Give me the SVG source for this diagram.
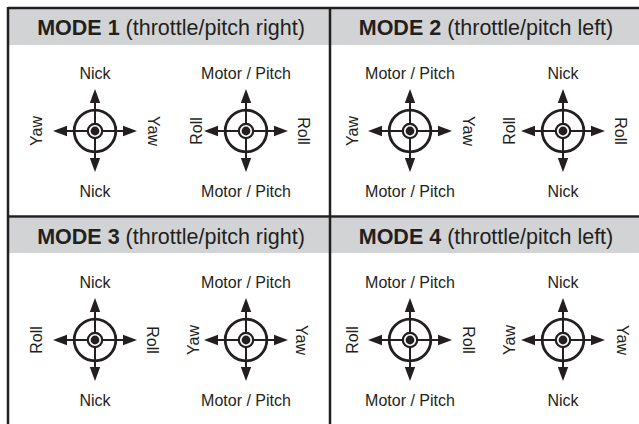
<svg xmlns="http://www.w3.org/2000/svg" xmlns:xlink="http://www.w3.org/1999/xlink" width="639" height="424" viewBox="0 0 639 424">
<style>
.hdr{fill:#d1d3d4}
.frame{stroke:#231f20;stroke-width:2.5;fill:none}
.ht{font-family:"Liberation Sans",Arial,sans-serif;font-size:21.5px;fill:#231f20;text-anchor:middle}
.lb{font-family:"Liberation Sans",Arial,sans-serif;font-size:16px;fill:#231f20;text-anchor:middle}
.ring{fill:none;stroke:#231f20;stroke-width:2.8}
.ax{stroke:#231f20;stroke-width:2}
.ah{fill:#231f20}
</style>
<defs>
<g id="stick">
<circle class="ring" r="20.8"/>
<line class="ax" x1="0" y1="-30" x2="0" y2="30"/>
<line class="ax" x1="-30" y1="0" x2="30" y2="0"/>
<circle r="7.2" fill="#fff" stroke="#231f20" stroke-width="2.2"/>
<circle class="ah" r="4.4"/>
<polygon class="ah" points="0,-42 -5.2,-28 5.2,-28"/>
<polygon class="ah" points="0,41 -5.2,27 5.2,27"/>
<polygon class="ah" points="-42,0 -28,-5.2 -28,5.2"/>
<polygon class="ah" points="42,0 28,-5.2 28,5.2"/>
</g>
</defs>
<rect width="639" height="424" fill="#fff"/>
<g id="frame">
<rect class="hdr" x="9" y="9" width="630" height="36"/>
<rect class="hdr" x="9" y="218" width="630" height="35"/>
<line class="frame" x1="8" y1="8" x2="639" y2="8"/>
<line class="frame" x1="8" y1="7" x2="8" y2="424"/>
<line class="frame" x1="330" y1="8" x2="330" y2="424"/>
<line class="frame" x1="8" y1="216.5" x2="639" y2="216.5"/>
</g>
<g id="mode1">
<text class="ht" x="171" y="35"><tspan font-weight="bold">MODE 1</tspan> (throttle/pitch right)</text>
<g id="m1-left">
<use xlink:href="#stick" x="95" y="131"/>
<text class="lb" x="95" y="79">Nick</text>
<text class="lb" x="95" y="197">Nick</text>
<text class="lb" transform="translate(42,131) rotate(-90)">Yaw</text>
<text class="lb" transform="translate(148,131) rotate(90)">Yaw</text>
</g>
<g id="m1-right">
<use xlink:href="#stick" x="246" y="131"/>
<text class="lb" x="246" y="79">Motor / Pitch</text>
<text class="lb" x="246" y="197">Motor / Pitch</text>
<text class="lb" transform="translate(202,131) rotate(-90)">Roll</text>
<text class="lb" transform="translate(298,131) rotate(90)">Roll</text>
</g>
</g>
<g id="mode2">
<text class="ht" x="486" y="35"><tspan font-weight="bold">MODE 2</tspan> (throttle/pitch left)</text>
<g id="m2-left">
<use xlink:href="#stick" x="410" y="131"/>
<text class="lb" x="410" y="79">Motor / Pitch</text>
<text class="lb" x="410" y="197">Motor / Pitch</text>
<text class="lb" transform="translate(358,131) rotate(-90)">Yaw</text>
<text class="lb" transform="translate(463,131) rotate(90)">Yaw</text>
</g>
<g id="m2-right">
<use xlink:href="#stick" x="563" y="131"/>
<text class="lb" x="563" y="79">Nick</text>
<text class="lb" x="563" y="197">Nick</text>
<text class="lb" transform="translate(515,131) rotate(-90)">Roll</text>
<text class="lb" transform="translate(615,131) rotate(90)">Roll</text>
</g>
</g>
<g id="mode3">
<text class="ht" x="171" y="243.5"><tspan font-weight="bold">MODE 3</tspan> (throttle/pitch right)</text>
<g id="m3-left">
<use xlink:href="#stick" x="95" y="340"/>
<text class="lb" x="95" y="288">Nick</text>
<text class="lb" x="95" y="406">Nick</text>
<text class="lb" transform="translate(42,340) rotate(-90)">Roll</text>
<text class="lb" transform="translate(147,340) rotate(90)">Roll</text>
</g>
<g id="m3-right">
<use xlink:href="#stick" x="246" y="340"/>
<text class="lb" x="246" y="288">Motor / Pitch</text>
<text class="lb" x="246" y="406">Motor / Pitch</text>
<text class="lb" transform="translate(199,340) rotate(-90)">Yaw</text>
<text class="lb" transform="translate(296,340) rotate(90)">Yaw</text>
</g>
</g>
<g id="mode4">
<text class="ht" x="486" y="243.5"><tspan font-weight="bold">MODE 4</tspan> (throttle/pitch left)</text>
<g id="m4-left">
<use xlink:href="#stick" x="410" y="340"/>
<text class="lb" x="410" y="288">Motor / Pitch</text>
<text class="lb" x="410" y="406">Motor / Pitch</text>
<text class="lb" transform="translate(358,340) rotate(-90)">Roll</text>
<text class="lb" transform="translate(463,340) rotate(90)">Roll</text>
</g>
<g id="m4-right">
<use xlink:href="#stick" x="563" y="340"/>
<text class="lb" x="563" y="288">Nick</text>
<text class="lb" x="563" y="406">Nick</text>
<text class="lb" transform="translate(515,340) rotate(-90)">Yaw</text>
<text class="lb" transform="translate(617,340) rotate(90)">Yaw</text>
</g>
</g>
</svg>
